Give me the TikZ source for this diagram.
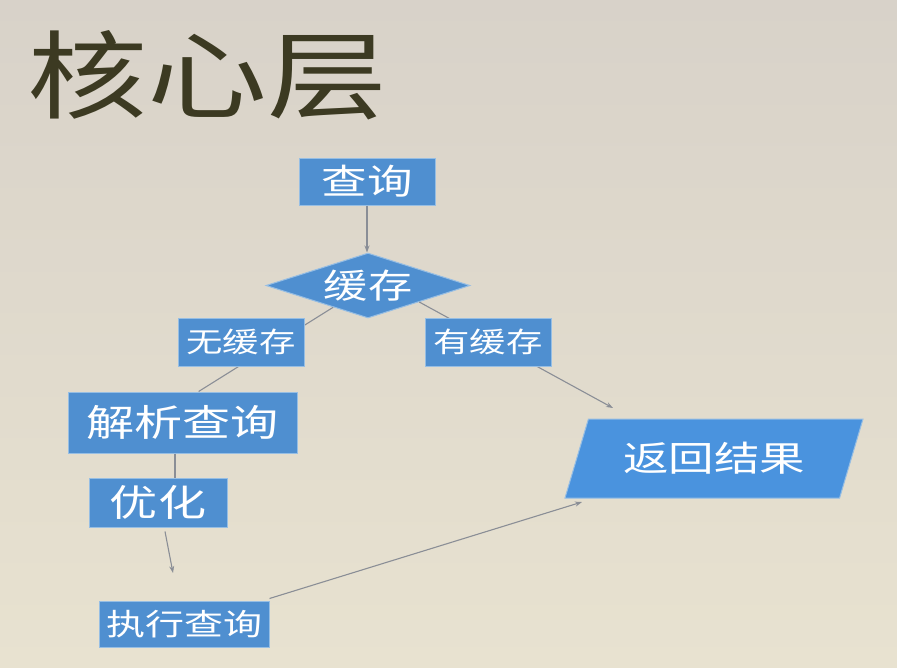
\documentclass[tikz,border=0pt]{standalone}
\usepackage{fontspec}
\usetikzlibrary{shapes.geometric,arrows.meta,calc}
\newfontfamily\cjk[FakeStretch=1.3]{Noto Sans CJK SC}
\newfontfamily\cjktitle[FakeStretch=1.25]{Noto Sans CJK SC}
\definecolor{bgtop}{RGB}{216,210,201}
\definecolor{bgbot}{RGB}{232,226,208}
\definecolor{boxfill}{RGB}{79,143,208}
\definecolor{boxedge}{RGB}{150,190,228}
\definecolor{retfill}{RGB}{74,147,222}
\definecolor{conn}{RGB}{138,142,150}
\definecolor{titlecol}{RGB}{60,58,34}
\tikzset{
  fbox/.style={rectangle, fill=boxfill, draw=boxedge, line width=1pt, inner sep=0pt, text=white},
  conline/.style={draw=conn, line width=1.1pt},
  conarrow/.style={conline, -{Stealth[length=7pt,width=5pt]}},
}
\begin{document}
\begin{tikzpicture}[x=1pt,y=-1pt]
\useasboundingbox (0,0) rectangle (897,667);
\shade[top color=bgtop, bottom color=bgbot] (0,0) rectangle (897,667);

\node[anchor=west, inner sep=0pt, text=titlecol, font=\cjktitle\fontsize{96pt}{110pt}\selectfont] (title) at (27,75) {核心层};

\node[fbox, minimum width=136pt, minimum height=47pt, font=\cjk\fontsize{35pt}{40pt}\selectfont] (q) at (367,181.5) {查询};
\node[diamond, fill=boxfill, draw=boxedge, line width=1pt, inner sep=0pt, aspect=3.14, minimum width=204pt, minimum height=65pt, text=white, font=\cjk\fontsize{34pt}{40pt}\selectfont] (cache) at (368,285.5) {缓存};
\node[fbox, minimum width=229pt, minimum height=61pt, font=\cjk\fontsize{37pt}{44pt}\selectfont] (parse) at (182.5,422.5) {解析查询};
\node[fbox, minimum width=138pt, minimum height=49pt, font=\cjk\fontsize{37pt}{44pt}\selectfont] (opt) at (158,502.5) {优化};
\node[fbox, minimum width=170pt, minimum height=46pt, font=\cjk\fontsize{30pt}{36pt}\selectfont] (exec) at (184,624) {执行查询};
\node[trapezium, trapezium left angle=54, trapezium right angle=126, trapezium stretches body, fill=retfill, draw=boxedge, line width=1pt, inner sep=0pt, minimum width=298pt, minimum height=79pt, text=white, font=\cjk\fontsize{35pt}{42pt}\selectfont] (ret) at (714,458.5) {返回结果};

\coordinate (optend) at (173,573);
\coordinate (retin1) at (613,408);
\coordinate (retin2) at (582,502);

\draw[conarrow] (q.south) -- (q.south |- cache.north);
\draw[conline] ($(cache.west)!0.66!(cache.south)$) -- ($(parse.north west)!0.57!(parse.north east)$);
\draw[conarrow] ($(cache.south)!0.5!(cache.east)$) -- (retin1);
\draw[conline] ([xshift=-7.5pt]parse.south) -- ([xshift=17pt]opt.north);
\draw[conarrow] ([xshift=7pt,yshift=-4pt]opt.south) -- (optend);
\draw[conarrow] ([yshift=2pt]exec.north east) -- (retin2);

\node[fbox, minimum width=126pt, minimum height=48pt, font=\cjk\fontsize{28pt}{34pt}\selectfont] (nocache) at (241,342) {无缓存};
\node[fbox, minimum width=126pt, minimum height=48pt, font=\cjk\fontsize{28pt}{34pt}\selectfont] (hascache) at (488,342) {有缓存};
\end{tikzpicture}
\end{document}
